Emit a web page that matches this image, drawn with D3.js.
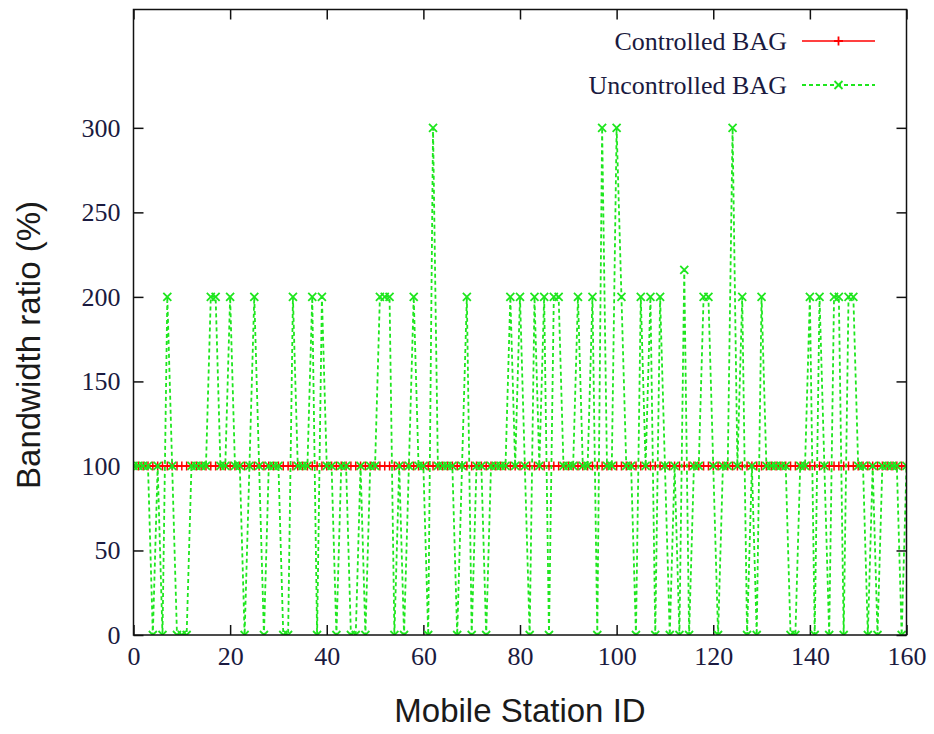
<!DOCTYPE html>
<html>
<head>
<meta charset="utf-8">
<script src="https://cdn.jsdelivr.net/npm/d3@7"></script>
<style>
  body { margin: 0; background: #fff; }
  .tick text { font-family: "Liberation Serif", "DejaVu Serif", serif; font-size: 26px; fill: #1a1a40; }
</style>
</head>
<body>
<div id="chart"></div>
<script>
// mobile station ids (x axis categories)
var station_ids = [
    0, 1, 2, 3, 4, 5, 6, 7, 8, 9, 10, 11, 12, 13, 14, 15, 16, 17, 18, 19,
    20, 21, 22, 23, 24, 25, 26, 27, 28, 29, 30, 31, 32, 33, 34, 35, 36, 37, 38, 39,
    40, 41, 42, 43, 44, 45, 46, 47, 48, 49, 50, 51, 52, 53, 54, 55, 56, 57, 58, 59,
    60, 61, 62, 63, 64, 65, 66, 67, 68, 69, 70, 71, 72, 73, 74, 75, 76, 77, 78, 79,
    80, 81, 82, 83, 84, 85, 86, 87, 88, 89, 90, 91, 92, 93, 94, 95, 96, 97, 98, 99,
    100, 101, 102, 103, 104, 105, 106, 107, 108, 109, 110, 111, 112, 113, 114, 115, 116, 117, 118, 119,
    120, 121, 122, 123, 124, 125, 126, 127, 128, 129, 130, 131, 132, 133, 134, 135, 136, 137, 138, 139,
    140, 141, 142, 143, 144, 145, 146, 147, 148, 149, 150, 151, 152, 153, 154, 155, 156, 157, 158, 159,
    160];

// bandwidth ratio (%) with controlled BAG
var controlled = [
    100, 100, 100, 100, 100, 100, 100, 100, 100, 100, 100, 100, 100, 100, 100, 100, 100, 100, 100, 100,
    100, 100, 100, 100, 100, 100, 100, 100, 100, 100, 100, 100, 100, 100, 100, 100, 100, 100, 100, 100,
    100, 100, 100, 100, 100, 100, 100, 100, 100, 100, 100, 100, 100, 100, 100, 100, 100, 100, 100, 100,
    100, 100, 100, 100, 100, 100, 100, 100, 100, 100, 100, 100, 100, 100, 100, 100, 100, 100, 100, 100,
    100, 100, 100, 100, 100, 100, 100, 100, 100, 100, 100, 100, 100, 100, 100, 100, 100, 100, 100, 100,
    100, 100, 100, 100, 100, 100, 100, 100, 100, 100, 100, 100, 100, 100, 100, 100, 100, 100, 100, 100,
    100, 100, 100, 100, 100, 100, 100, 100, 100, 100, 100, 100, 100, 100, 100, 100, 100, 100, 100, 100,
    100, 100, 100, 100, 100, 100, 100, 100, 100, 100, 100, 100, 100, 100, 100, 100, 100, 100, 100, 100,
    100];

// bandwidth ratio (%) with uncontrolled BAG
var uncontrolled = [
    100, 100, 100, 100, 0, 100, 0, 200, 100, 0, 0, 0, 100, 100, 100, 100, 200, 200, 100, 100,
    200, 100, 100, 0, 100, 200, 100, 0, 100, 100, 100, 0, 0, 200, 100, 100, 100, 200, 0, 200,
    100, 100, 0, 100, 100, 0, 0, 100, 0, 100, 100, 200, 200, 200, 0, 100, 0, 100, 200, 100,
    100, 0, 300, 100, 100, 100, 100, 0, 100, 200, 0, 100, 100, 0, 100, 100, 100, 100, 200, 100,
    200, 100, 0, 200, 100, 200, 0, 200, 200, 100, 100, 100, 200, 100, 100, 200, 0, 300, 100, 100,
    300, 200, 100, 100, 0, 200, 100, 200, 0, 200, 100, 0, 100, 0, 216, 0, 100, 100, 200, 200,
    100, 0, 100, 100, 300, 100, 200, 0, 100, 0, 200, 100, 100, 100, 100, 100, 0, 0, 100, 100,
    200, 0, 200, 100, 0, 200, 200, 0, 200, 200, 100, 100, 0, 100, 0, 100, 100, 100, 100, 0,
    100];

var x_ticks = [0, 20, 40, 60, 80, 100, 120, 140, 160];
var y_ticks = [0, 50, 100, 150, 200, 250, 300];
var series_names = ["Controlled BAG", "Uncontrolled BAG"];

// set the dimensions and margins of the graph
var margin = {top: 9.5, right: 27.5, bottom: 99, left: 133.5},
    width = 934 - margin.left - margin.right,
    height = 734 - margin.top - margin.bottom;

var red = "#ff0000",
    green = "#1ee61e";

var svg = d3.select("#chart")
    .append("svg")
    .attr("width", width + margin.left + margin.right)
    .attr("height", height + margin.top + margin.bottom)
    .append("g")
    .attr("transform", "translate(" + margin.left + "," + margin.top + ")");

var x = d3.scaleLinear().domain([0, 160]).range([0, width]);
var y = d3.scaleLinear().domain([0, 370]).range([height, 0]);

// axes with inward ticks, mirrored on top and right
svg.append("g")
    .attr("transform", "translate(0," + height + ")")
    .call(d3.axisBottom(x).tickValues(x_ticks).tickSizeInner(-10).tickSizeOuter(0).tickPadding(12))
    .call(function(g) { g.select(".domain").remove(); });
svg.append("g")
    .call(d3.axisLeft(y).tickValues(y_ticks).tickSizeInner(-10).tickSizeOuter(0).tickPadding(13))
    .call(function(g) { g.select(".domain").remove(); });
svg.append("g")
    .call(d3.axisTop(x).tickValues(x_ticks).tickSizeInner(-10).tickSizeOuter(0).tickFormat(""))
    .call(function(g) { g.select(".domain").remove(); });
svg.append("g")
    .attr("transform", "translate(" + width + ",0)")
    .call(d3.axisRight(y).tickValues(y_ticks).tickSizeInner(-10).tickSizeOuter(0).tickFormat(""))
    .call(function(g) { g.select(".domain").remove(); });

svg.selectAll(".tick line").attr("stroke", "#111").attr("stroke-width", 1.5);
svg.selectAll(".tick text").attr("font-size", null).attr("font-family", null);

svg.append("clipPath").attr("id", "clip")
    .append("rect").attr("width", width).attr("height", height);

var plot = svg.append("g").attr("clip-path", "url(#clip)");

var line = d3.line()
    .x(function(d) { return x(d[0]); })
    .y(function(d) { return y(d[1]); });

var ctrl_data = station_ids.map(function(id, i) { return [id, controlled[i]]; });
var unctrl_data = station_ids.map(function(id, i) { return [id, uncontrolled[i]]; });

var plus = function(s) { return "M" + (-s) + ",0H" + s + "M0," + (-s) + "V" + s; };
var cross = function(s) { return "M" + (-s) + "," + (-s) + "L" + s + "," + s + "M" + (-s) + "," + s + "L" + s + "," + (-s); };

// controlled BAG
plot.append("path")
    .datum(ctrl_data)
    .attr("d", line)
    .attr("fill", "none")
    .attr("stroke", red)
    .attr("stroke-width", 1.4);
plot.selectAll(".ctrl-pt")
    .data(ctrl_data)
    .enter()
    .append("path")
    .attr("class", "ctrl-pt")
    .attr("transform", function(d) { return "translate(" + x(d[0]) + "," + y(d[1]) + ")"; })
    .attr("d", plus(4.5))
    .attr("stroke", red)
    .attr("stroke-width", 1.5);

// uncontrolled BAG
plot.append("path")
    .datum(unctrl_data)
    .attr("d", line)
    .attr("fill", "none")
    .attr("stroke", green)
    .attr("stroke-width", 1.8)
    .attr("stroke-dasharray", "4,3");
plot.selectAll(".unctrl-pt")
    .data(unctrl_data)
    .enter()
    .append("path")
    .attr("class", "unctrl-pt")
    .attr("transform", function(d) { return "translate(" + x(d[0]) + "," + y(d[1]) + ")"; })
    .attr("d", cross(4))
    .attr("stroke", green)
    .attr("stroke-width", 1.8);

// frame
svg.append("rect")
    .attr("width", width)
    .attr("height", height)
    .attr("fill", "none")
    .attr("stroke", "#111")
    .attr("stroke-width", 1.5);

// legend
var legend = svg.append("g")
    .attr("transform", "translate(" + (787 - margin.left) + "," + (41 - margin.top) + ")");
series_names.forEach(function(name, i) {
    var row = legend.append("g").attr("transform", "translate(0," + (i * 44) + ")");
    row.append("text")
        .text(name)
        .attr("text-anchor", "end")
        .attr("dy", "0.35em")
        .attr("font-family", "'Liberation Serif', serif")
        .attr("font-size", "26px")
        .attr("fill", "#1a1a40");
    row.append("line")
        .attr("x1", 15).attr("x2", 88)
        .attr("stroke", i == 0 ? red : green)
        .attr("stroke-width", i == 0 ? 1.4 : 1.8)
        .attr("stroke-dasharray", i == 0 ? null : "4,3");
    row.append("path")
        .attr("transform", "translate(51.5,0)")
        .attr("d", i == 0 ? plus(4.5) : cross(4))
        .attr("stroke", i == 0 ? red : green)
        .attr("stroke-width", 1.8);
});

// axis titles
svg.append("text")
    .text("Mobile Station ID")
    .attr("x", 520 - margin.left)
    .attr("y", 722 - margin.top)
    .attr("text-anchor", "middle")
    .attr("font-family", "'Liberation Sans', Arial, sans-serif")
    .attr("font-size", "33px")
    .attr("fill", "#1a1a1a");
svg.append("text")
    .text("Bandwidth ratio (%)")
    .attr("transform", "translate(" + (40 - margin.left) + "," + (345 - margin.top) + ") rotate(-90)")
    .attr("text-anchor", "middle")
    .attr("font-family", "'Liberation Sans', Arial, sans-serif")
    .attr("font-size", "33px")
    .attr("fill", "#1a1a1a");
</script>
</body>
</html>
